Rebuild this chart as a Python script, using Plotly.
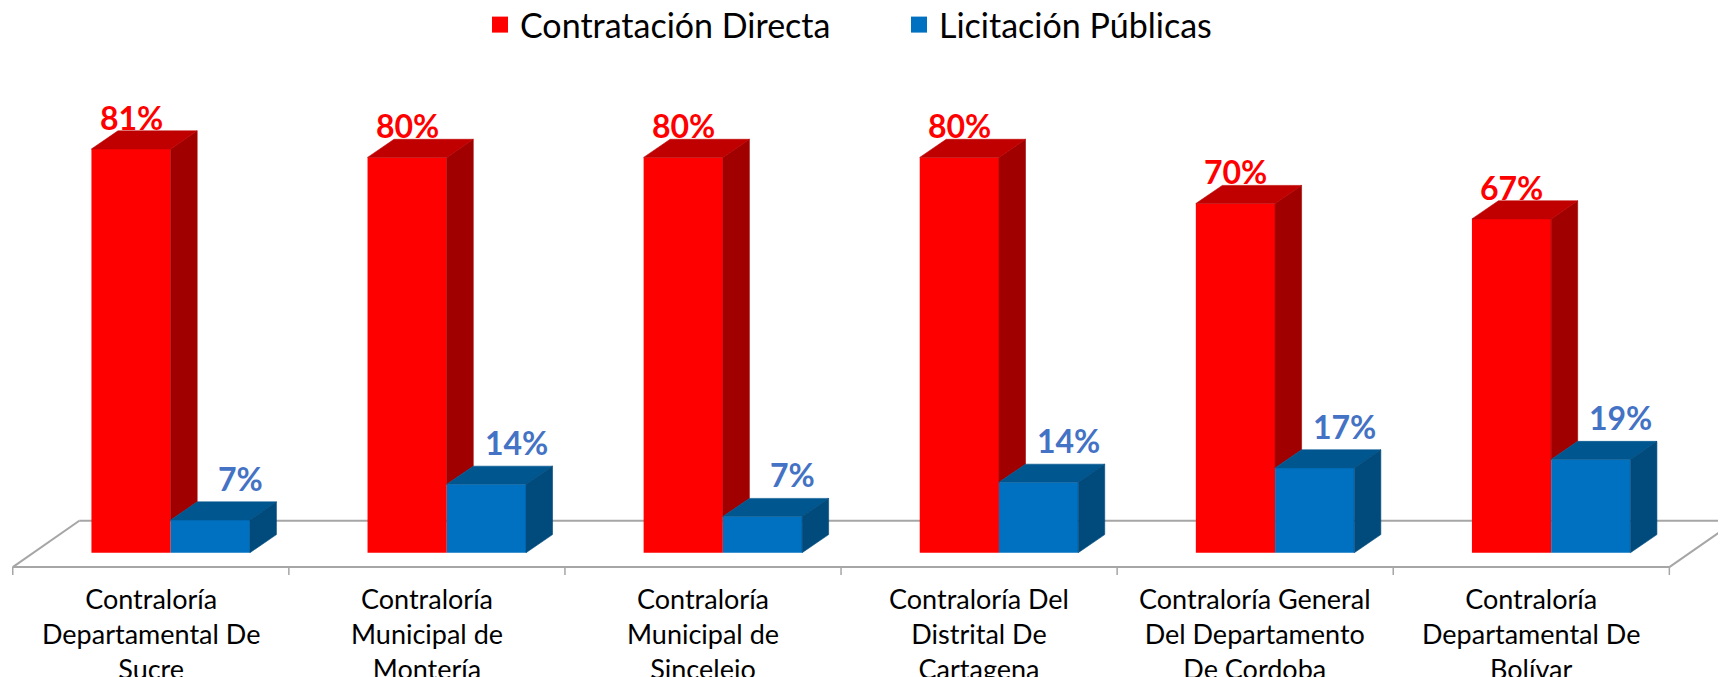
import plotly.graph_objects as go

# ---------------- data ----------------
categories = [
    "Contraloría<br>Departamental De<br>Sucre",
    "Contraloría<br>Municipal de<br>Montería",
    "Contraloría<br>Municipal de<br>Sincelejo",
    "Contraloría Del<br>Distrital De<br>Cartagena",
    "Contraloría General<br>Del Departamento<br>De Cordoba",
    "Contraloría<br>Departamental De<br>Bolívar",
]
series_names = ["Contratación Directa", "Licitación Públicas"]
contratacion_directa = [81.4, 79.7, 79.7, 79.7, 70.4, 67.3]
licitacion_publicas = [6.6, 13.8, 7.3, 14.2, 17.1, 18.8]

# ---------------- styling / geometry ----------------
RED_FRONT, RED_TOP, RED_SIDE = "#FF0000", "#C00000", "#A00000"
BLUE_FRONT, BLUE_TOP, BLUE_SIDE = "#0070C0", "#00568F", "#004A7C"
RED_LABEL, BLUE_LABEL = "#FF0000", "#4472C4"
FLOOR = "#A6A6A6"
FONT = "Lato"

W = 0.287          # bar width (category units)
RED_OFF = -0.215   # offset of red bar from category center
BLUE_OFF = RED_OFF + W
DX, DY = 0.096, 3.65           # 3-D depth of the bars
FDX, FDY = 0.241, 9.35         # depth of the floor
FLOOR_Y = -2.9                 # front edge of floor
TICK_LEN = 1.6

n = len(categories)
pos = list(range(n))


def top_faces(vals, off):
    xs, ys = [], []
    for i, v in zip(pos, vals):
        x0 = i + off
        x1 = x0 + W
        xs += [x0, x1, x1 + DX, x0 + DX, x0, None]
        ys += [v, v, v + DY, v + DY, v, None]
    return xs, ys


def side_faces(vals, off, bottoms):
    xs, ys = [], []
    for i, v, b in zip(pos, vals, bottoms):
        x1 = i + off + W
        xs += [x1, x1 + DX, x1 + DX, x1, x1, None]
        ys += [b, b + DY, v + DY, v, b, None]
    return xs, ys


fig = go.Figure()

# front faces
fig.add_trace(go.Bar(x=pos, y=contratacion_directa, width=W, offset=RED_OFF,
                     marker=dict(color=RED_FRONT, line=dict(width=0)),
                     name=series_names[0], showlegend=False, hoverinfo="y"))
fig.add_trace(go.Bar(x=pos, y=licitacion_publicas, width=W, offset=BLUE_OFF,
                     marker=dict(color=BLUE_FRONT, line=dict(width=0)),
                     name=series_names[1], showlegend=False, hoverinfo="y"))


def face(xs, ys, color):
    return go.Scatter(x=xs, y=ys, mode="lines", fill="toself", fillcolor=color,
                      line=dict(color=color, width=0.6), hoverinfo="skip",
                      showlegend=False)


xs, ys = side_faces(contratacion_directa, RED_OFF, licitacion_publicas)
fig.add_trace(face(xs, ys, RED_SIDE))
xs, ys = top_faces(contratacion_directa, RED_OFF)
fig.add_trace(face(xs, ys, RED_TOP))
xs, ys = top_faces(licitacion_publicas, BLUE_OFF)
fig.add_trace(face(xs, ys, BLUE_TOP))
xs, ys = side_faces(licitacion_publicas, BLUE_OFF, [0] * n)
fig.add_trace(face(xs, ys, BLUE_SIDE))

# legend entries
for name, col in zip(series_names, [RED_FRONT, BLUE_FRONT]):
    fig.add_trace(go.Scatter(x=[None], y=[None], mode="markers", name=name,
                             marker=dict(symbol="square", size=16, color=col)))

# data labels
annotations = []
for i, v in zip(pos, contratacion_directa):
    annotations.append(dict(x=i + RED_OFF + W / 2, y=v + 6.4, xref="x", yref="y",
                            text=f"{v:.0f}%", showarrow=False, yanchor="middle",
                            font=dict(family=FONT, size=32, color=RED_LABEL, weight="bold")))
for i, v in zip(pos, licitacion_publicas):
    annotations.append(dict(x=i + BLUE_OFF + W / 2 + 0.109, y=v + 8.4, xref="x", yref="y",
                            text=f"{v:.0f}%", showarrow=False, yanchor="middle",
                            font=dict(family=FONT, size=32, color=BLUE_LABEL, weight="bold")))
# category labels
for i, c in zip(pos, categories):
    annotations.append(dict(x=i, y=-5.6, xref="x", yref="y", text=c, showarrow=False,
                            yanchor="top", xanchor="center", align="center",
                            font=dict(family=FONT, size=27, color="#000000")))

# floor (3-D base plane) and ticks
shapes = []
left, right = -0.5, n - 0.5
line = dict(color=FLOOR, width=2)
shapes.append(dict(type="line", xref="x", yref="y", x0=left, y0=FLOOR_Y, x1=right, y1=FLOOR_Y, line=line, layer="below"))
shapes.append(dict(type="line", xref="x", yref="y", x0=left + FDX, y0=FLOOR_Y + FDY, x1=right + FDX, y1=FLOOR_Y + FDY, line=line, layer="below"))
shapes.append(dict(type="line", xref="x", yref="y", x0=left, y0=FLOOR_Y, x1=left + FDX, y1=FLOOR_Y + FDY, line=line, layer="below"))
shapes.append(dict(type="line", xref="x", yref="y", x0=right, y0=FLOOR_Y, x1=right + FDX, y1=FLOOR_Y + FDY, line=line, layer="below"))
for k in range(n + 1):
    xt = left + k
    shapes.append(dict(type="line", xref="x", yref="y", x0=xt, y0=FLOOR_Y, x1=xt, y1=FLOOR_Y - TICK_LEN,
                       line=dict(color=FLOOR, width=1.5), layer="below"))

fig.update_layout(
    width=1726, height=677,
    margin=dict(l=0, r=0, t=0, b=0, autoexpand=False),
    paper_bgcolor="white", plot_bgcolor="white",
    barmode="overlay",
    xaxis=dict(visible=False, range=[-0.5172, 5.7342], fixedrange=True),
    yaxis=dict(visible=False, range=[-26.67, 109.82], fixedrange=True),
    showlegend=True,
    legend=dict(orientation="h", x=472 / 1726, xanchor="left", y=1 - 17 / 677, yanchor="middle",
                font=dict(family=FONT, size=34, color="#000000"),
                itemsizing="trace", entrywidth=374, entrywidthmode="pixels",
                bgcolor="rgba(0,0,0,0)"),
    annotations=annotations,
    shapes=shapes,
    font=dict(family=FONT),
)

fig.write_html("out.html")
